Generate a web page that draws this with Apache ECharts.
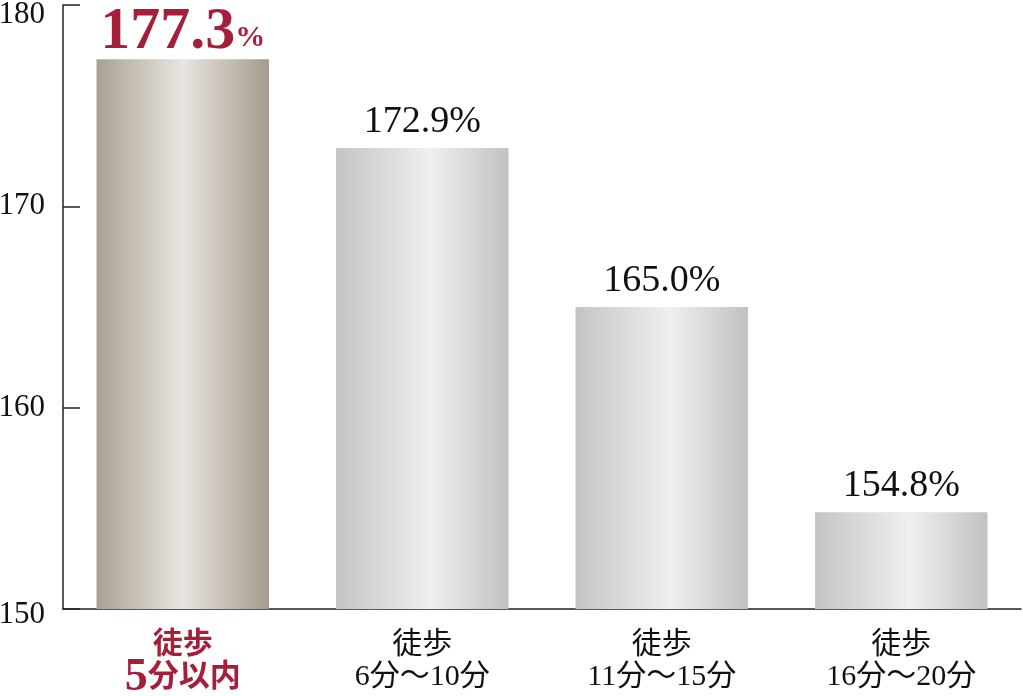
<!DOCTYPE html>
<html>
<head>
<meta charset="utf-8">
<script src="https://cdn.jsdelivr.net/npm/echarts@6/dist/echarts.min.js"></script>
<style>
  html, body { margin: 0; padding: 0; background: #fff; }
  #js-echarts { width: 1023px; height: 696px; }
</style>
</head>
<body>
<div id="js-echarts"></div>
<script>
const categories = ['徒歩\n5分以内', '徒歩\n6分〜10分', '徒歩\n11分〜15分', '徒歩\n16分〜20分'];
const values = [177.3, 172.9, 165.0, 154.8];
const yTicks = [150, 160, 170, 180];

const chartDom = document.getElementById('js-echarts');
if(chartDom){
  const chart = echarts.init(chartDom);
  const theme = {
    red: '#a51f3a',
    ink: '#111111',
    axis: '#222222'
  };
  const serif = '"Liberation Serif", "Noto Sans CJK JP", serif';

  const greyBar = new echarts.graphic.LinearGradient(0, 0, 1, 0, [
    { offset: 0, color: '#c3c4c4' },
    { offset: 0.55, color: '#eff0ef' },
    { offset: 1, color: '#c0c1c1' }
  ]);
  const goldBar = new echarts.graphic.LinearGradient(0, 0, 1, 0, [
    { offset: 0, color: '#a8a193' },
    { offset: 0.5, color: '#e9e5e0' },
    { offset: 1, color: '#a39b8c' }
  ]);

  const option = {
    animation: false,
    grid: { left: 63, right: 2, top: 5, bottom: 87, outerBoundsMode: 'none', containLabel: false },
    xAxis: {
      type: 'category',
      data: categories,
      axisLine: { lineStyle: { color: theme.axis, width: 1.5 } },
      axisTick: { inside: true, length: 15, lineStyle: { color: theme.axis, width: 1.5 } },
      axisLabel: {
        margin: 20,
        interval: 0,
        color: theme.ink,
        fontFamily: serif,
        fontSize: 30,
        lineHeight: 32,
        formatter: (value, index) => {
          if (index === 0) {
            const parts = value.split('\n');
            return '{r|' + parts[0] + '}\n{big|5}{rb|分以内}';
          }
          return value;
        },
        rich: {
          r: { color: theme.red, fontFamily: serif, fontSize: 30, fontWeight: 'bold', lineHeight: 32 },
          big: { color: theme.red, fontFamily: serif, fontSize: 46, fontWeight: 'bold', lineHeight: 34 },
          rb: { color: theme.red, fontFamily: serif, fontSize: 31, fontWeight: 'bold', lineHeight: 34 }
        }
      }
    },
    yAxis: {
      type: 'value',
      min: yTicks[0],
      max: yTicks[yTicks.length - 1],
      interval: 10,
      axisLine: { show: true, lineStyle: { color: theme.axis, width: 1.5 } },
      axisTick: { show: true, inside: true, length: 17, lineStyle: { color: theme.axis, width: 1.5 } },
      splitLine: { show: false },
      axisLabel: {
        margin: 18,
        color: theme.ink,
        fontFamily: serif,
        fontSize: 31,
        formatter: (value) => {
          if (value === yTicks[yTicks.length - 1]) return '{top|' + value + '}';
          if (value === yTicks[0]) return '{bot|' + value + '}';
          return String(value);
        },
        rich: {
          top: { fontFamily: serif, fontSize: 31, color: theme.ink, padding: [20, 0, 0, 0] },
          bot: { fontFamily: serif, fontSize: 31, color: theme.ink, padding: [12, 0, 0, 0] }
        }
      }
    },
    series: [
      {
        type: 'bar',
        barWidth: '72%',
        data: values.map((v, i) => ({
          value: v,
          itemStyle: { color: i === 0 ? goldBar : greyBar },
          label: i === 0 ? {
            formatter: '{n|' + v.toFixed(1) + '}{p|%}',
            distance: 2
          } : {}
        })),
        label: {
          show: true,
          position: 'top',
          distance: 7,
          color: theme.ink,
          fontFamily: serif,
          fontSize: 38,
          formatter: ({ value }) => value.toFixed(1) + '%',
          rich: {
            n: { color: theme.red, fontFamily: serif, fontSize: 60, fontWeight: 'bold', lineHeight: 50 },
            p: { color: theme.red, fontFamily: serif, fontSize: 30, fontWeight: 'bold', lineHeight: 50, verticalAlign: 'bottom', padding: [0, 0, 4, 0] }
          }
        }
      }
    ]
  };

  chart.setOption(option);
}
</script>
</body>
</html>
